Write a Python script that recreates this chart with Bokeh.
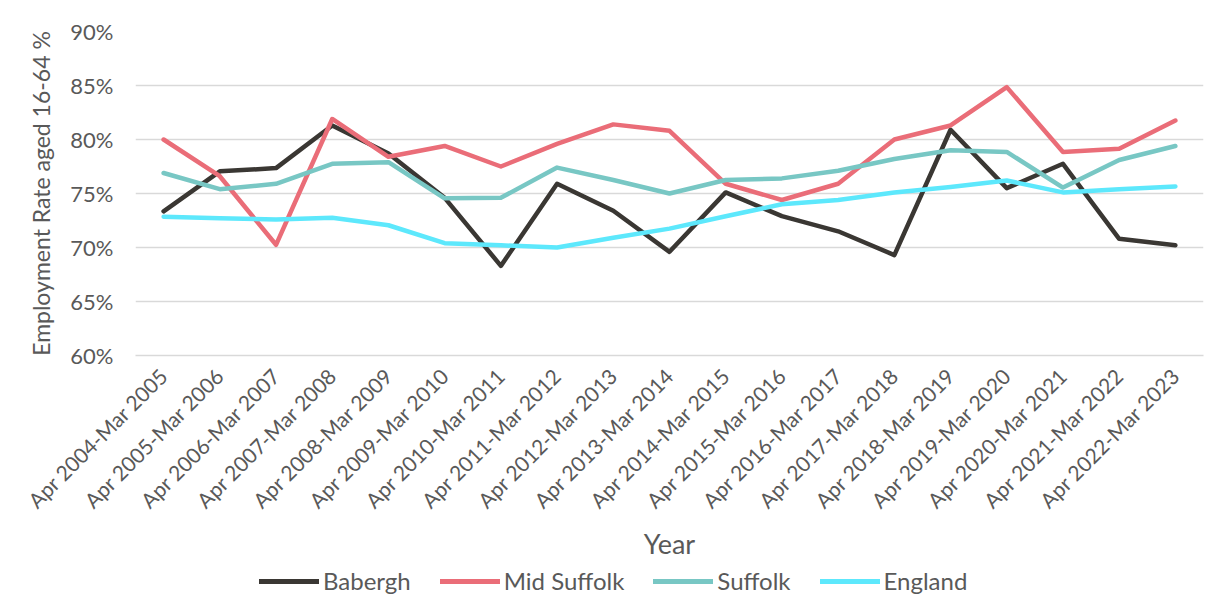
import math
from bokeh.plotting import figure
from bokeh.layouts import column
from bokeh.models import (FactorRange, Range1d, FixedTicker, PrintfTickFormatter,
                          Legend, LegendItem, ColumnDataSource)
from bokeh.embed import file_html
from bokeh.resources import INLINE

years = ["Apr 2004-Mar 2005", "Apr 2005-Mar 2006", "Apr 2006-Mar 2007",
         "Apr 2007-Mar 2008", "Apr 2008-Mar 2009", "Apr 2009-Mar 2010",
         "Apr 2010-Mar 2011", "Apr 2011-Mar 2012", "Apr 2012-Mar 2013",
         "Apr 2013-Mar 2014", "Apr 2014-Mar 2015", "Apr 2015-Mar 2016",
         "Apr 2016-Mar 2017", "Apr 2017-Mar 2018", "Apr 2018-Mar 2019",
         "Apr 2019-Mar 2020", "Apr 2020-Mar 2021", "Apr 2021-Mar 2022",
         "Apr 2022-Mar 2023"]

babergh = [73.35, 77.05, 77.35, 81.3, 78.7, 74.6, 68.3, 75.9, 73.4, 69.6,
           75.1, 72.9, 71.5, 69.3, 80.9, 75.5, 77.75, 70.8, 70.2]
mid_suffolk = [80.0, 76.6, 70.25, 81.9, 78.4, 79.4, 77.5, 79.6, 81.4, 80.8,
               75.9, 74.4, 75.9, 80.0, 81.3, 84.85, 78.85, 79.15, 81.75]
suffolk = [76.9, 75.4, 75.9, 77.75, 77.9, 74.55, 74.6, 77.4, 76.25, 75.0,
           76.25, 76.4, 77.1, 78.2, 79.0, 78.85, 75.55, 78.1, 79.4]
england = [72.85, 72.7, 72.6, 72.75, 72.06, 70.4, 70.2, 70.0, 70.9, 71.75,
           72.9, 74.0, 74.4, 75.1, 75.6, 76.2, 75.1, 75.4, 75.65]

series_names = ["Babergh", "Mid Suffolk", "Suffolk", "England"]
series_values = [babergh, mid_suffolk, suffolk, england]
series_colors = ["#3a3733", "#ea6d78", "#78c7c4", "#5de8fc"]

y_ticks = [60, 65, 70, 75, 80, 85, 90]

FONT = "Lato"
TEXT = "#595959"
LW = 4.5

p = figure(width=1215, height=566,
           x_range=FactorRange(*years, range_padding=0),
           y_range=Range1d(60, 90),
           output_backend="svg", toolbar_location=None,
           min_border_left=135, min_border_right=12, min_border_top=31,
           min_border_bottom=211)
p.outline_line_color = None
p.background_fill_color = "white"
p.border_fill_color = "white"

for name, vals, col in zip(series_names, series_values, series_colors):
    src = ColumnDataSource(dict(x=years, y=vals))
    p.line("x", "y", source=src, line_color=col, line_width=LW,
           line_join="round", line_cap="round")

# grid
p.xgrid.grid_line_color = None
p.ygrid.grid_line_color = "#d9d9d9"
p.ygrid.grid_line_width = 1.5

# y axis
p.yaxis.ticker = FixedTicker(ticks=y_ticks)
p.yaxis.formatter = PrintfTickFormatter(format="%d%%")
p.yaxis.axis_line_color = None
p.yaxis.major_tick_line_color = None
p.yaxis.minor_tick_line_color = None
p.yaxis.major_label_standoff = 16
p.yaxis.major_label_text_font = FONT
p.yaxis.major_label_text_font_size = "22px"
p.yaxis.major_label_text_color = TEXT
p.yaxis.axis_label = "Employment Rate aged 16-64 %"
p.yaxis.axis_label_text_font = FONT
p.yaxis.axis_label_text_font_size = "23px"
p.yaxis.axis_label_text_font_style = "normal"
p.yaxis.axis_label_text_color = TEXT
p.yaxis.axis_label_standoff = 12

# x axis
p.xaxis.axis_line_color = "#d9d9d9"
p.xaxis.axis_line_width = 1.5
p.xaxis.major_tick_line_color = None
p.xaxis.minor_tick_line_color = None
p.xaxis.major_label_orientation = math.pi / 4
p.xaxis.major_label_standoff = 10
p.xaxis.major_label_text_font = FONT
p.xaxis.major_label_text_font_size = "21px"
p.xaxis.major_label_text_color = TEXT
p.xaxis.axis_label = "Year"
p.xaxis.axis_label_text_font = FONT
p.xaxis.axis_label_text_font_size = "27px"
p.xaxis.axis_label_text_font_style = "normal"
p.xaxis.axis_label_text_color = TEXT
p.xaxis.axis_label_standoff = 3

# legend strip below the chart (series drawn far outside its visible range,
# only their legend glyphs show)
lg = figure(width=1215, height=39,
            x_range=FactorRange(*years, range_padding=0),
            y_range=Range1d(0, 1),
            output_backend="svg", toolbar_location=None,
            x_axis_type=None, y_axis_type=None,
            min_border_left=0, min_border_right=0, min_border_top=0,
            min_border_bottom=0)
lg.outline_line_color = None
lg.xgrid.grid_line_color = None
lg.ygrid.grid_line_color = None
items = []
for name, vals, col in zip(series_names, series_values, series_colors):
    src = ColumnDataSource(dict(x=years, y=vals))
    r = lg.line("x", "y", source=src, line_color=col, line_width=LW + 0.5,
                line_cap="round")
    items.append(LegendItem(label=name, renderers=[r]))
legend = Legend(items=items, orientation="horizontal", location=(124, 10),
                glyph_width=60, glyph_height=22, label_standoff=4, spacing=29,
                padding=0, margin=0, border_line_color=None,
                background_fill_alpha=0,
                label_text_font=FONT, label_text_font_size="24px",
                label_text_color=TEXT)
lg.add_layout(legend, "center")

layout = column(p, lg, spacing=0)
open("out.html", "w").write(file_html(layout, INLINE))
